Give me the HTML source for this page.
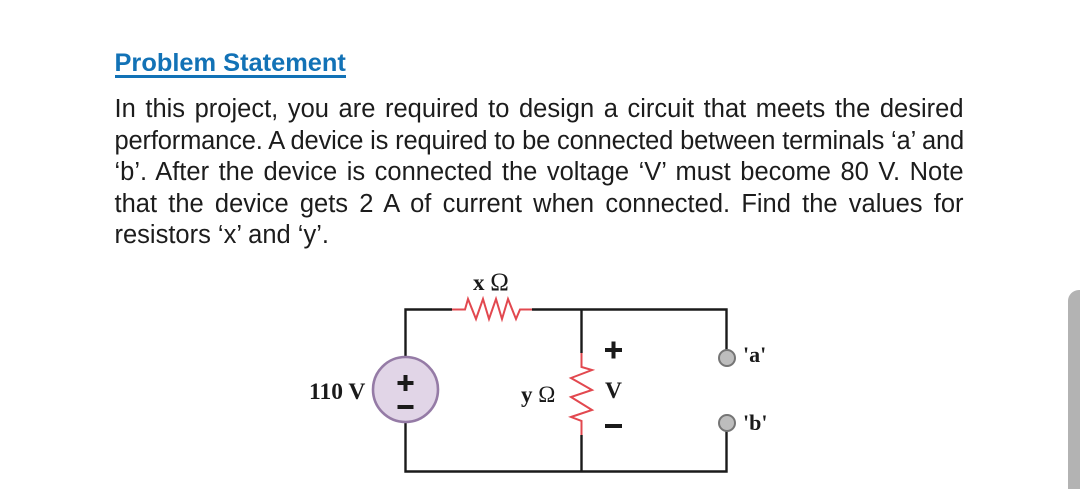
<!DOCTYPE html>
<html><head><meta charset="utf-8"><style>
html,body{margin:0;padding:0;background:#fff;width:1080px;height:489px;overflow:hidden}
.t{position:absolute;left:114.5px;width:849px;font:25.5px/31.6px "Liberation Sans",sans-serif;color:#1c1c1c;white-space:nowrap}
.j{text-align:justify;text-align-last:justify}
#h{position:absolute;left:114.5px;top:47px;font:bold 25.4px/32px "Liberation Sans",sans-serif;color:#1272b6;white-space:nowrap}
#u{position:absolute;left:115px;top:75px;width:231px;height:3px;background:#1272b6}
svg{position:absolute;left:0;top:0}
svg text{font-family:"Liberation Serif",serif;font-weight:bold;fill:#1a1a1a}
svg tspan.o{font-weight:normal}
</style></head><body>
<div id="h">Problem Statement</div><div id="u"></div>
<div class="t j" style="top:94px">In this project, you are required to design a circuit that meets the desired</div>
<div class="t j" style="top:125.500px;letter-spacing:-0.17px">performance. A device is required to be connected between terminals ‘a’ and</div>
<div class="t j" style="top:157px">‘b’. After the device is connected the voltage ‘V’ must become 80 V. Note</div>
<div class="t j" style="top:188.500px">that the device gets 2 A of current when connected. Find the values for</div>
<div class="t" style="top:220px">resistors ‘x’ and ‘y’.</div>
<svg width="1080" height="489" viewBox="0 0 1080 489">
<g fill="none" stroke="#1a1a1a" stroke-width="2.4">
<path d="M405.500 356V309.500H452M532 309.500H726.500V350"/>
<path d="M405.500 423V471.500H726.500V430"/>
<path d="M581.500 309.500V353M581.500 435V471.500"/>
</g>
<g fill="none" stroke="#e2484f" stroke-width="2" stroke-linejoin="miter">
<path d="M452 309.500H465L468 299L476 319L483 299L489 319L496 299L502 319L508 299L516 319L520 309.500H532"/>
<path d="M581.500 353V367L592 370L571 378L592 390L571 397L592 410L571 417L581.500 421V435"/>
</g>
<circle cx="405.500" cy="389.500" r="32.500" fill="#e1d5e7" stroke="#957ba6" stroke-width="2.600"/>
<g fill="#1a1a1a">
<rect x="397.500" y="381" width="16" height="4"/><rect x="403.500" y="375" width="4" height="16"/>
<rect x="397.500" y="405" width="16" height="4"/>
<rect x="605" y="348" width="17" height="4"/><rect x="611.500" y="341.500" width="4" height="17"/>
<rect x="605" y="424" width="17" height="4"/>
</g>
<g fill="#bdbdbd" stroke="#757575" stroke-width="2">
<circle cx="727" cy="358" r="8"/><circle cx="727" cy="423" r="8"/>
</g>
<text x="473" y="290" font-size="23">x <tspan class="o" font-size="25">Ω</tspan></text>
<text x="309" y="399" font-size="23.500">110 V</text>
<text x="521" y="402" font-size="23">y <tspan class="o">Ω</tspan></text>
<text x="605" y="398" font-size="23.500">V</text>
<text x="743" y="362" font-size="22">'a'</text>
<text x="743" y="430" font-size="22">'b'</text>
</svg>
<div style="position:absolute;left:1068px;top:290px;width:12px;height:199px;background:#b3b3b3;border-top-left-radius:11px"></div>
</body></html>
